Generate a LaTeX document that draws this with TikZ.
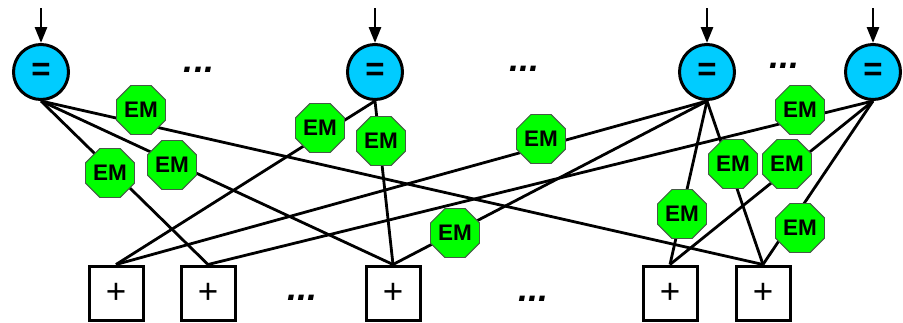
\documentclass[tikz,border=0pt]{standalone}
\usepackage{fontspec}
\setmainfont{Liberation Sans}
\usetikzlibrary{shapes.geometric,arrows.meta}
\definecolor{eqcyan}{RGB}{0,204,255}
\definecolor{emgreen}{RGB}{0,255,0}
\definecolor{emedge}{RGB}{70,90,70}
\begin{document}
\begin{tikzpicture}[x=1pt,y=-1pt,
  eqnode/.style={circle,draw=black,line width=3pt,fill=eqcyan,minimum size=55pt,
    inner sep=0pt,font=\fontsize{33}{33}\selectfont\bfseries},
  sumnode/.style={rectangle,draw=black,line width=3pt,fill=white,minimum size=54pt,
    inner sep=0pt,font=\fontsize{35}{35}\selectfont},
  emnode/.style={regular polygon,regular polygon sides=8,draw=emedge,line width=0.9pt,
    fill=emgreen,minimum size=53pt,inner sep=0pt,font=\fontsize{22.5}{22.5}\selectfont\bfseries},
  wire/.style={line width=2.8pt,black},
  feed/.style={line width=2.8pt,black,-{Triangle[length=16pt,width=12pt]}},
  dots/.style={anchor=base,inner sep=0pt,font=\fontsize{36}{36}\selectfont\bfseries\itshape}
]
\useasboundingbox (0,0) rectangle (903,322);

% equality (variable) nodes
\node[eqnode] (c1) at (41,72)  {=};
\node[eqnode] (c2) at (375,72) {=};
\node[eqnode] (c3) at (707,72) {=};
\node[eqnode] (c4) at (873,72) {=};

% sum (check) nodes
\node[sumnode] (b1) at (116,293) {+};
\node[sumnode] (b2) at (208,293) {+};
\node[sumnode] (b3) at (393,293) {+};
\node[sumnode] (b4) at (670,293) {+};
\node[sumnode] (b5) at (763,293) {+};

% incoming messages
\coordinate (a1) at (41,8);
\coordinate (a2) at (375,8);
\coordinate (a3) at (707,8);
\coordinate (a4) at (873,8);
\foreach \i in {1,...,4} \draw[feed] (a\i) -- (c\i.north);

% edges of the graph
\draw[wire] (c1.south) -- (b2.north);
\draw[wire] (c1.south) -- (b3.north);
\draw[wire] (c1.south) -- (b5.north);
\draw[wire] (c2.south) -- (b1.north);
\draw[wire] (c2.south) -- (b3.north);
\draw[wire] (c3.south) -- (b1.north);
\draw[wire] (c3.south) -- (b3.north);
\draw[wire] (c3.south) -- (b4.north);
\draw[wire] (c3.south) -- (b5.north);
\draw[wire] (c4.south) -- (b2.north);
\draw[wire] (c4.south) -- (b4.north);
\draw[wire] (c4.south) -- (b5.north);

% EM blocks on the edges
\node[emnode] (e1)  at (141,110) {EM};
\node[emnode] (e2)  at (110,173) {EM};
\node[emnode] (e3)  at (172,165) {EM};
\node[emnode] (e4)  at (320,128) {EM};
\node[emnode] (e5)  at (381,141) {EM};
\node[emnode] (e6)  at (541,139) {EM};
\node[emnode] (e7)  at (455,233) {EM};
\node[emnode] (e8)  at (682,214) {EM};
\node[emnode] (e9)  at (733,164) {EM};
\node[emnode] (e10) at (800,110) {EM};
\node[emnode] (e11) at (787,164) {EM};
\node[emnode] (e12) at (800,228) {EM};

% ellipses
\node[dots] (d1) at (199,72)  {...};
\node[dots] (d2) at (524,71)  {...};
\node[dots] (d3) at (784,68)  {...};
\node[dots] (d4) at (302,300) {...};
\node[dots] (d5) at (533,301) {...};
\end{tikzpicture}
\end{document}
